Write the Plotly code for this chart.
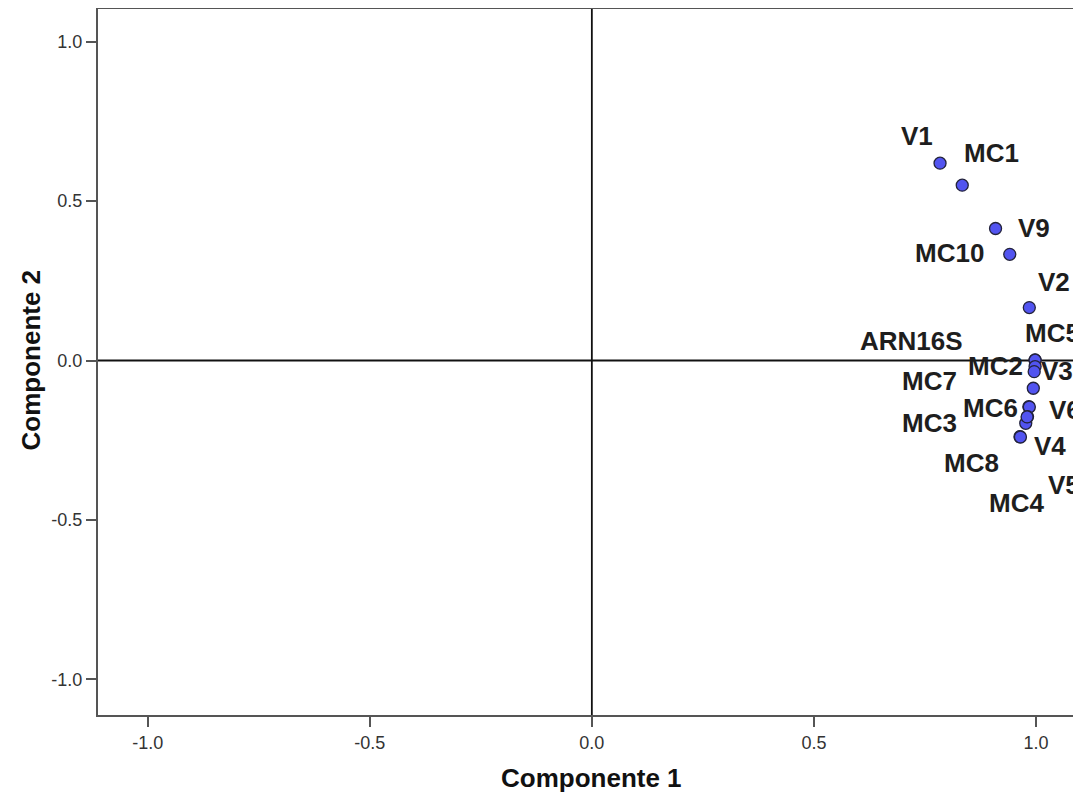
import plotly.graph_objects as go

# Component loadings
labels = ["V1", "MC1", "V9", "MC10", "V2",
          "MC5", "ARN16S", "MC2", "V3", "MC7",
          "MC6", "V6", "MC3", "V4", "MC8", "V5", "MC4"]
comp1 = [0.784, 0.834, 0.909, 0.941, 0.985,
         0.998, 0.998, 0.998, 0.996, 0.994,
         0.984, 0.985, 0.977, 0.964, 0.965, 0.981, 0.980]
comp2 = [0.619, 0.550, 0.414, 0.333, 0.166,
         0.002, 0.001, -0.019, -0.035, -0.087,
         -0.145, -0.146, -0.197, -0.239, -0.240, -0.176, -0.177]

x_ticks = [-1.0, -0.5, 0.0, 0.5, 1.0]
y_ticks = [-1.0, -0.5, 0.0, 0.5, 1.0]
x_title = "Componente 1"
y_title = "Componente 2"

# label placement offsets in pixels (dx right, dy down)
label_dx = [-22.6, 29.4, 38.4, -59.8, 24.7,
            17.5, -123.3, -39.2, 23.2, -104.3,
            -38.2, 36.0, -96.7, 30.0, -49.2, 36.3, -11.0]
label_dy = [-25.7, -30.7, 0.5, 0.0, -25.0,
            -26.0, -18.3, 0.8, 0.8, -5.8,
            2.3, 4.3, 0.7, 10.8, 26.6, 69.3, 87.3]

FONT = "Liberation Sans, Arial, sans-serif"

fig = go.Figure()
fig.add_trace(go.Scatter(
    x=comp1, y=comp2, mode="markers",
    marker=dict(size=12, color="rgb(82,84,240)",
                line=dict(color="rgb(35,35,60)", width=1.3)),
    hoverinfo="text", text=labels, showlegend=False,
))

annotations = []
for lab, xv, yv, dx, dy in zip(labels, comp1, comp2, label_dx, label_dy):
    annotations.append(dict(
        x=xv, y=yv, xref="x", yref="y", text=lab, showarrow=False,
        xanchor="center", yanchor="middle", xshift=dx, yshift=-dy + 1,
        font=dict(family=FONT, size=26, color="#1e1e1e", weight="bold"),
    ))

annotations.append(dict(
    x=0, y=0, xref="x", yref="paper", text=x_title, showarrow=False,
    xanchor="center", yanchor="middle", yshift=-63,
    font=dict(family=FONT, size=26, color="#111", weight="bold"),
))
annotations.append(dict(
    x=0, y=0, xref="paper", yref="y", text=y_title, showarrow=False,
    xanchor="center", yanchor="middle", xshift=-68, textangle=-90,
    font=dict(family=FONT, size=26, color="#111", weight="bold"),
))

fig.update_layout(
    width=1073, height=787,
    margin=dict(l=90, r=0, t=0, b=80),
    paper_bgcolor="white", plot_bgcolor="white",
    font=dict(family=FONT, size=18, color="#333"),
    annotations=annotations,
    shapes=[
        dict(type="line", xref="paper", yref="paper", x0=0, x1=1, y0=1, y1=1,
             line=dict(color="#555", width=2)),
        dict(type="line", xref="x", yref="paper", x0=0, x1=0, y0=0, y1=1,
             line=dict(color="#111", width=1.8), layer="below"),
        dict(type="line", xref="paper", yref="y", x0=0, x1=1, y0=0, y1=0,
             line=dict(color="#111", width=1.8), layer="below"),
    ],
)
fig.update_xaxes(
    range=[-1.112, 1.1014], tickvals=x_ticks,
    ticktext=[f"{v:.1f}" for v in x_ticks],
    showgrid=False, zeroline=False, showline=True, linecolor="#555",
    linewidth=2, ticks="outside", ticklen=10, tickwidth=2, tickcolor="#555",
    tickfont=dict(size=18, color="#333"),
)
fig.update_yaxes(
    range=[-1.112, 1.1057], tickvals=y_ticks,
    ticktext=[f"{v:.1f}" for v in y_ticks],
    showgrid=False, zeroline=False, showline=True, linecolor="#555",
    linewidth=2, ticks="outside", ticklen=10, tickwidth=2, tickcolor="#555",
    tickfont=dict(size=18, color="#333"),
)

fig.write_html("out.html")
